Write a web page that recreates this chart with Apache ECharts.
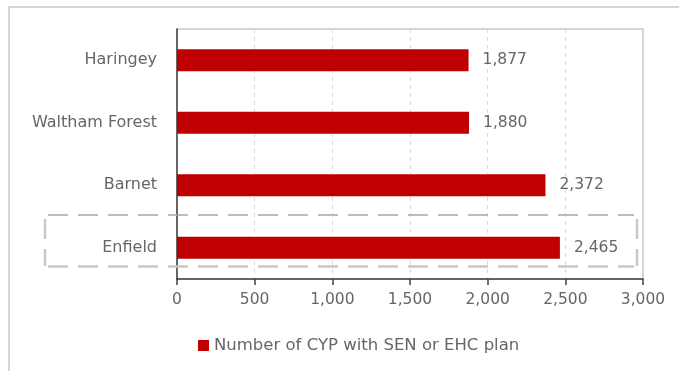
<!DOCTYPE html>
<html><head><meta charset="utf-8">
<script src="https://cdn.jsdelivr.net/npm/echarts@6/dist/echarts.min.js"></script>
<style>html,body{margin:0;padding:0;background:#fff}#c{width:679px;height:371px}</style>
</head><body><div id="c"></div>
<script>
const categories = ["Haringey", "Waltham Forest", "Barnet", "Enfield"];
const values = [1877, 1880, 2372, 2465];
const seriesName = "Number of CYP with SEN or EHC plan";
const xTicks = [0, 500, 1000, 1500, 2000, 2500, 3000];

const FONT = "DejaVu Sans";
const TXT = "#666666";
const chart = echarts.init(document.getElementById('c'));
const dashTop = { stroke: '#a8a8a8', lineWidth: 1.5, lineDash: [20, 10] };
const dashOther = { stroke: '#c8c8c8', lineWidth: 2.5, lineDash: [20, 10] };
chart.setOption({
  animation: false,
  textStyle: { fontFamily: FONT },
  grid: { left: 177, top: 29, width: 466, height: 250, show: true, borderColor: '#c8c8c8', borderWidth: 1.5, containLabel: false },
  legend: {
    data: [seriesName], bottom: 12, left: 193, itemWidth: 11, itemHeight: 11, itemGap: 5,
    icon: 'rect', textStyle: { fontFamily: FONT, fontSize: 16.5, color: TXT }
  },
  xAxis: {
    type: 'value', min: xTicks[0], max: xTicks[xTicks.length - 1], interval: 500,
    axisLine: { show: true, lineStyle: { color: '#404040', width: 1.5 } },
    axisTick: { show: true, length: 6, lineStyle: { color: '#404040', width: 1.5 } },
    axisLabel: { color: TXT, fontSize: 15.5, margin: 13, formatter: v => v.toLocaleString('en-US') },
    splitLine: { show: true, lineStyle: { color: '#d9d9d9', type: [4, 4], width: 1 } }
  },
  yAxis: {
    type: 'category', data: categories, inverse: true,
    axisLine: { show: true, lineStyle: { color: '#404040', width: 1.5 } },
    axisTick: { show: false },
    axisLabel: { color: TXT, fontSize: 16, margin: 20 }
  },
  series: [{
    name: seriesName, type: 'bar', data: values, barWidth: 22,
    itemStyle: { color: '#C00000' },
    label: { show: true, position: 'right', distance: 14, color: TXT, fontSize: 15.5,
      formatter: p => p.value.toLocaleString('en-US') }
  }],
  graphic: [
    { type: 'rect', shape: { x: 9, y: 7, width: 720, height: 420 }, style: { fill: 'none', stroke: '#c8c8c8', lineWidth: 1.5 }, silent: true },
    { type: 'line', shape: { x1: 48, y1: 215, x2: 634, y2: 215 }, style: dashTop, silent: true, z: 100 },
    { type: 'line', shape: { x1: 45, y1: 219, x2: 45, y2: 266 }, style: dashOther, silent: true, z: 100 },
    { type: 'line', shape: { x1: 48, y1: 266.5, x2: 634, y2: 266.5 }, style: dashOther, silent: true, z: 100 },
    { type: 'line', shape: { x1: 637, y1: 219, x2: 637, y2: 266 }, style: dashOther, silent: true, z: 100 }
  ]
});
</script></body></html>
